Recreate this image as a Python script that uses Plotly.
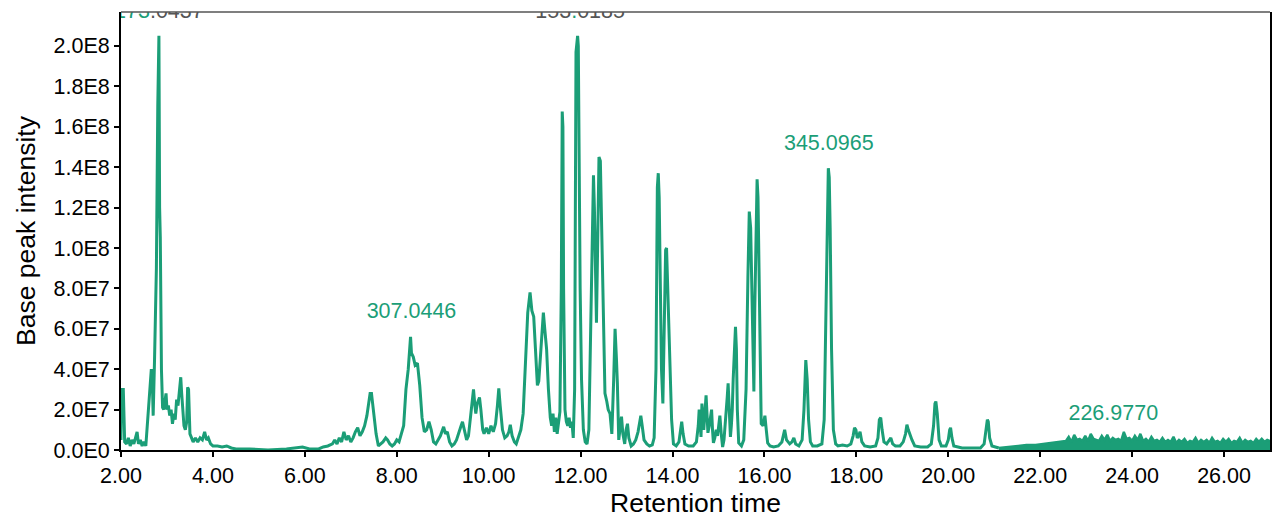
import plotly.graph_objects as go
import numpy as np

# ---------------- data ----------------
# retention time (min) and base peak intensity (x 1e7)
time_main = [
    2.00, 2.01, 2.05, 2.08, 2.12, 2.16, 2.20, 2.24, 2.28, 2.32, 2.35, 2.38, 2.42, 2.46, 2.50, 2.54,
    2.58, 2.62, 2.66, 2.68, 2.70, 2.73, 2.77, 2.80, 2.825, 2.84, 2.855, 2.88, 2.905, 2.93, 2.96, 2.98,
    3.00, 3.03, 3.06, 3.09, 3.12, 3.15, 3.18, 3.21, 3.24, 3.27, 3.30, 3.32, 3.35, 3.37, 3.40, 3.43,
    3.45, 3.47, 3.50, 3.53, 3.57, 3.62, 3.67, 3.72, 3.77, 3.82, 3.86, 3.90, 3.95, 4.00, 4.10, 4.20,
    4.30, 4.40, 4.50, 4.80, 5.20, 5.60, 5.80, 5.95, 6.10, 6.30, 6.40, 6.50, 6.60, 6.65, 6.70, 6.75,
    6.80, 6.85, 6.90, 6.95, 7.00, 7.05, 7.10, 7.15, 7.20, 7.25, 7.30, 7.35, 7.42, 7.45, 7.50, 7.55,
    7.60, 7.65, 7.70, 7.76, 7.80, 7.85, 7.90, 7.95, 8.00, 8.05, 8.10, 8.15, 8.20, 8.25, 8.30, 8.32,
    8.36, 8.40, 8.45, 8.50, 8.55, 8.60, 8.65, 8.70, 8.75, 8.80, 8.85, 8.90, 8.95, 9.02, 9.06, 9.10,
    9.15, 9.20, 9.25, 9.30, 9.35, 9.40, 9.43, 9.47, 9.52, 9.56, 9.60, 9.64, 9.67, 9.70, 9.72, 9.75,
    9.80, 9.83, 9.87, 9.90, 9.95, 10.00, 10.05, 10.10, 10.15, 10.19, 10.22, 10.25, 10.30, 10.35, 10.40, 10.44,
    10.47, 10.51, 10.56, 10.60, 10.65, 10.70, 10.75, 10.80, 10.85, 10.90, 10.94, 10.98, 11.02, 11.06, 11.09, 11.12,
    11.15, 11.19, 11.22, 11.26, 11.30, 11.34, 11.37, 11.40, 11.43, 11.46, 11.49, 11.52, 11.55, 11.58, 11.60, 11.615,
    11.63, 11.66, 11.69, 11.72, 11.75, 11.78, 11.81, 11.84, 11.87, 11.90, 11.935, 11.95, 11.97, 11.99, 12.02, 12.06,
    12.10, 12.14, 12.18, 12.22, 12.26, 12.28, 12.30, 12.33, 12.345, 12.37, 12.40, 12.43, 12.46, 12.50, 12.53, 12.57,
    12.60, 12.64, 12.68, 12.72, 12.75, 12.78, 12.80, 12.83, 12.86, 12.89, 12.92, 12.96, 12.99, 13.02, 13.05, 13.10,
    13.15, 13.20, 13.25, 13.29, 13.31, 13.34, 13.38, 13.44, 13.50, 13.56, 13.60, 13.64, 13.67, 13.69, 13.71, 13.73,
    13.76, 13.79, 13.82, 13.85, 13.87, 13.89, 13.92, 13.95, 13.98, 14.02, 14.08, 14.14, 14.18, 14.20, 14.23, 14.27,
    14.35, 14.45, 14.52, 14.56, 14.58, 14.61, 14.62, 14.64, 14.66, 14.68, 14.71, 14.73, 14.75, 14.77, 14.80, 14.83,
    14.85, 14.87, 14.89, 14.92, 14.95, 14.98, 15.01, 15.03, 15.06, 15.09, 15.12, 15.16, 15.19, 15.21, 15.23, 15.26,
    15.28, 15.30, 15.32, 15.35, 15.37, 15.39, 15.41, 15.44, 15.50, 15.55, 15.60, 15.64, 15.67, 15.70, 15.72, 15.75,
    15.77, 15.79, 15.82, 15.84, 15.86, 15.89, 15.93, 15.97, 16.01, 16.04, 16.07, 16.12, 16.20, 16.30, 16.38, 16.44,
    16.48, 16.55, 16.60, 16.64, 16.68, 16.75, 16.82, 16.86, 16.90, 16.93, 16.96, 17.00, 17.05, 17.15, 17.25, 17.30,
    17.34, 17.37, 17.39, 17.41, 17.43, 17.46, 17.50, 17.55, 17.60, 17.70, 17.80, 17.88, 17.93, 17.96, 17.99, 18.02,
    18.05, 18.08, 18.12, 18.18, 18.30, 18.42, 18.47, 18.50, 18.53, 18.56, 18.60, 18.66, 18.72, 18.75, 18.79, 18.85,
    18.95, 19.02, 19.07, 19.10, 19.13, 19.17, 19.21, 19.27, 19.40, 19.55, 19.63, 19.68, 19.71, 19.73, 19.76, 19.80,
    19.85, 19.95, 20.00, 20.03, 20.05, 20.08, 20.12, 20.30, 20.50, 20.70, 20.78, 20.82, 20.85, 20.87, 20.90, 20.95,
    21.10,
]
intensity_main = [
    0.5, 3.0, 3.0, 0.4, 0.3, 0.6, 0.2, 0.5, 0.3, 0.6, 0.9, 0.3, 0.5, 0.2, 0.4, 0.2,
    1.5, 2.5, 4.0, 3.6, 1.7, 4.5, 9.0, 17.0, 20.5, 12.0, 10.5, 4.0, 2.1, 2.0, 2.4, 2.8,
    2.0, 2.2, 1.7, 2.0, 1.3, 1.8, 1.5, 2.5, 2.2, 3.0, 3.6, 2.8, 1.6, 1.2, 1.0, 1.4,
    3.1, 3.0, 0.8, 0.6, 0.4, 0.6, 0.4, 0.6, 0.5, 0.9, 0.5, 0.6, 0.3, 0.2, 0.2, 0.15,
    0.2, 0.1, 0.05, 0.05, 0.0, 0.05, 0.1, 0.15, 0.05, 0.05, 0.15, 0.2, 0.3, 0.5, 0.3, 0.6,
    0.4, 0.9, 0.5, 0.7, 0.4, 0.6, 0.9, 1.1, 0.7, 0.9, 1.2, 1.7, 2.8, 2.8, 1.8, 0.8,
    0.2, 0.3, 0.4, 0.6, 0.5, 0.3, 0.2, 0.3, 0.5, 0.4, 0.8, 1.2, 3.0, 4.0, 5.6, 4.8,
    4.6, 4.2, 4.3, 3.2, 1.6, 0.9, 1.0, 1.4, 1.0, 0.4, 0.3, 0.5, 0.7, 1.15, 0.8, 0.9,
    0.4, 0.2, 0.3, 0.5, 0.8, 1.2, 1.4, 1.0, 0.5, 0.7, 1.5, 2.4, 3.0, 2.2, 1.8, 2.3,
    2.6, 2.0, 1.0, 0.8, 1.1, 0.8, 1.2, 0.9, 1.3, 2.2, 3.05, 2.2, 1.0, 0.6, 0.7, 0.9,
    1.25, 0.7, 0.4, 0.3, 0.6, 1.0, 1.8, 4.0, 6.8, 7.8, 6.9, 6.6, 4.5, 3.2, 3.4, 4.5,
    5.8, 6.8, 6.0, 5.0, 3.0, 1.6, 1.2, 1.8, 0.9, 1.6, 0.8, 1.5, 1.9, 8.0, 16.75, 16.0,
    8.0, 2.0, 1.4, 1.2, 1.6, 1.1, 1.4, 0.6, 3.0, 19.7, 20.5, 20.0, 13.0, 8.0, 3.5, 1.0,
    0.4, 0.3, 1.0, 6.0, 12.5, 13.6, 12.0, 6.8, 6.3, 10.0, 14.5, 14.3, 11.0, 5.0, 2.8, 2.4,
    2.0, 1.8, 0.8, 3.5, 6.0, 4.5, 3.3, 0.5, 1.2, 1.65, 0.8, 0.3, 1.0, 1.3, 0.6, 0.2,
    0.3, 0.5, 0.9, 1.5, 1.7, 1.2, 0.5, 0.3, 0.2, 0.25, 0.6, 4.0, 13.0, 13.7, 12.5, 9.0,
    4.0, 2.3, 6.0, 9.9, 10.0, 8.5, 5.0, 3.3, 1.5, 0.3, 0.2, 0.4, 1.0, 1.4, 0.8, 0.3,
    0.2, 0.2, 0.4, 1.2, 2.0, 1.0, 0.65, 2.3, 1.6, 1.0, 2.0, 2.7, 1.8, 0.85, 1.2, 1.6,
    2.0, 1.0, 0.35, 0.6, 1.0, 0.7, 1.4, 1.7, 0.8, 0.15, 0.5, 1.5, 2.6, 3.3, 2.0, 0.65,
    1.2, 2.0, 3.5, 5.5, 6.1, 5.0, 2.0, 0.35, 0.2, 0.5, 3.0, 8.5, 11.8, 11.0, 8.0, 3.5,
    2.9, 7.0, 12.5, 13.4, 12.5, 7.0, 1.3, 1.2, 1.7, 1.0, 0.35, 0.2, 0.15, 0.2, 0.4, 1.0,
    0.5, 0.3, 0.4, 0.6, 0.3, 0.2, 0.5, 2.0, 4.45, 3.5, 1.5, 0.4, 0.2, 0.2, 0.3, 1.5,
    7.0, 13.0, 13.95, 13.5, 11.0, 5.0, 1.0, 0.3, 0.2, 0.25, 0.2, 0.3, 0.7, 1.1, 1.0, 0.6,
    0.7, 0.9, 0.4, 0.2, 0.15, 0.2, 0.6, 1.5, 1.6, 1.0, 0.4, 0.3, 0.5, 0.6, 0.3, 0.2,
    0.2, 0.4, 0.8, 1.25, 1.0, 0.7, 0.5, 0.2, 0.15, 0.15, 0.3, 1.2, 2.3, 2.4, 1.8, 0.5,
    0.2, 0.2, 0.5, 1.0, 1.1, 0.6, 0.2, 0.1, 0.1, 0.1, 0.3, 1.0, 1.5, 1.4, 0.6, 0.2,
    0.1,
]

# noisy late baseline (21-27 min)
time_tail = [
    21.10, 21.30, 21.50, 21.70, 21.90, 22.10, 22.30, 22.50,
    22.56, 22.62, 22.68, 22.74, 22.80, 22.86, 22.92, 22.98, 23.04, 23.10, 23.16, 23.22, 23.28, 23.34,
    23.40, 23.46, 23.52, 23.58, 23.64, 23.70, 23.76, 23.82, 23.88, 23.94, 24.00, 24.06, 24.12, 24.18,
    24.24, 24.30, 24.36, 24.42, 24.48, 24.54, 24.60, 24.66, 24.72, 24.78, 24.84, 24.90, 24.96, 25.02,
    25.08, 25.14, 25.20, 25.26, 25.32, 25.38, 25.44, 25.50, 25.56, 25.62, 25.68, 25.74, 25.80, 25.86,
    25.92, 25.98, 26.04, 26.10, 26.16, 26.22, 26.28, 26.34, 26.40, 26.46, 26.52, 26.58, 26.64, 26.70,
    26.76, 26.82, 26.88, 26.94, 27.00,
]
intensity_tail = [
    0.1, 0.15, 0.2, 0.25, 0.25, 0.3, 0.35, 0.4,
    0.45, 0.65, 0.4, 0.75, 0.5, 0.55, 0.45, 0.7, 0.45, 0.8, 0.55, 0.5, 0.45, 0.7,
    0.5, 0.75, 0.45, 0.6, 0.5, 0.55, 0.45, 0.9, 0.55, 0.6, 0.45, 0.7, 0.5, 0.8,
    0.45, 0.55, 0.4, 0.65, 0.45, 0.5, 0.4, 0.6, 0.4, 0.5, 0.4, 0.65, 0.35, 0.5,
    0.4, 0.55, 0.35, 0.45, 0.4, 0.6, 0.35, 0.5, 0.4, 0.5, 0.35, 0.6, 0.4, 0.45,
    0.35, 0.55, 0.4, 0.55, 0.35, 0.45, 0.4, 0.6, 0.35, 0.5, 0.4, 0.45, 0.35, 0.55,
    0.4, 0.55, 0.4, 0.5, 0.45,
]

# peak labels
label_time = [2.825, 11.99, 8.32, 17.40, 23.59]
label_int = [21.65, 21.65, 6.78, 15.1, 1.73]
label_text = [
    "<span style='color:#1b9e77'>173</span>.0437",
    "153<span style='color:#1b9e77'>.</span>0185",
    "<span style='color:#1b9e77'>307.0446</span>",
    "<span style='color:#1b9e77'>345.0965</span>",
    "<span style='color:#1b9e77'>226.9770</span>",
]

x_ticks = [2, 4, 6, 8, 10, 12, 14, 16, 18, 20, 22, 24, 26]
x_ticklabels = ["2.00", "4.00", "6.00", "8.00", "10.00", "12.00", "14.00",
                "16.00", "18.00", "20.00", "22.00", "24.00", "26.00"]
y_ticks_e7 = [0, 2, 4, 6, 8, 10, 12, 14, 16, 18, 20]
y_ticklabels = ["0.0E0", "2.0E7", "4.0E7", "6.0E7", "8.0E7", "1.0E8",
                "1.2E8", "1.4E8", "1.6E8", "1.8E8", "2.0E8"]

SCALE = 1e7
GREEN = "#1b9e77"
FONT = "Liberation Sans, Arial, sans-serif"

fig = go.Figure()
fig.add_trace(go.Scatter(
    x=time_main, y=np.array(intensity_main) * SCALE, mode="lines",
    line=dict(color=GREEN, width=3), showlegend=False, hoverinfo="skip"))
fig.add_trace(go.Scatter(
    x=time_tail, y=np.array(intensity_tail) * SCALE, mode="lines",
    line=dict(color=GREEN, width=2.4), fill="tozeroy", fillcolor=GREEN,
    showlegend=False, hoverinfo="skip"))
fig.add_trace(go.Scatter(
    x=label_time, y=np.array(label_int) * SCALE, mode="text", text=label_text,
    textposition="middle center", cliponaxis=True,
    textfont=dict(family=FONT, size=21.5, color="#555555"),
    showlegend=False, hoverinfo="skip"))

fig.update_layout(
    width=1278, height=519,
    margin=dict(l=121, r=6, t=12, b=69),
    paper_bgcolor="white", plot_bgcolor="white",
    font=dict(family=FONT, color="black"),
    xaxis=dict(
        range=[2, 27.0], tickvals=x_ticks, ticktext=x_ticklabels,
        showgrid=False, zeroline=False, showline=True, linecolor="black", linewidth=2,
        ticks="outside", ticklen=5, tickwidth=2, tickcolor="black",
        tickfont=dict(family=FONT, size=21.5, color="black"),
        title=dict(text="Retention time", font=dict(family=FONT, size=26.5, color="black"), standoff=6),
    ),
    yaxis=dict(
        range=[0, 2.168e8], tickvals=[v * SCALE for v in y_ticks_e7], ticktext=y_ticklabels,
        showgrid=False, zeroline=False, showline=True, linecolor="black", linewidth=2,
        mirror=True,
        ticks="outside", ticklen=5, tickwidth=2, tickcolor="black",
        tickfont=dict(family=FONT, size=21.5, color="black"),
        title=dict(text="Base peak intensity", font=dict(family=FONT, size=26.5, color="black"), standoff=10),
    ),
    shapes=[dict(type="line", xref="paper", yref="paper", x0=0, x1=1, y0=1, y1=1,
                 line=dict(color="#555555", width=1.5))],
)

fig.write_html("out.html")
